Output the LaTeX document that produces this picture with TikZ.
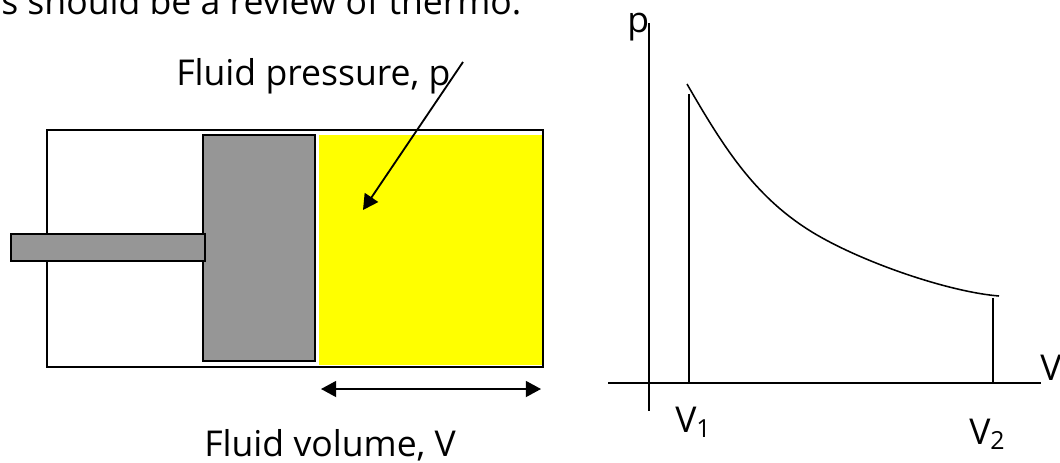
\documentclass[tikz,border=0pt]{standalone}
\usepackage{fontspec}
\setmainfont{Open Sans}
\usepackage{xcolor}
\usetikzlibrary{arrows.meta, positioning, calc}
\definecolor{pistongray}{RGB}{150, 150, 150}
\definecolor{fluidyellow}{RGB}{255, 255, 0}
\tikzstyle{part} = [rectangle, draw=black, anchor=north west, inner sep=0pt, outer sep=0pt, line width=1.4pt]
\tikzstyle{label} = [anchor=base west, inner sep=0pt, font=\fontsize{25.3}{30}\selectfont]
\tikzstyle{line} = [line width=1.3pt]
\tikzstyle{arrow} = [-{Triangle[length=3.8mm, width=4mm]}, line width=1.3pt]
\tikzstyle{bothways} = [{Triangle[length=3.8mm, width=4mm]}-{Triangle[length=3.8mm, width=4mm]}, line width=1.3pt]

\begin{document}
\begin{tikzpicture}[x=0.025cm, y=-0.025cm]
    \useasboundingbox (0, 0) rectangle (1060, 462);

    % Cylinder and fluid
    \node[part, minimum width=12.4cm, minimum height=5.925cm] (cylinder) at (47, 130) {};
    \node[anchor=north west, inner sep=0pt, outer sep=0pt, fill=fluidyellow, minimum width=5.6cm, minimum height=5.75cm] (fluid) at (319, 135) {};
    \draw[line width=1.4pt] (cylinder.north east) -- (cylinder.south east) -- (cylinder.south west);
    \node[part, fill=pistongray, minimum width=2.8cm, minimum height=5.65cm] (piston) at (203, 135) {};
    \node[part, fill=pistongray, minimum width=4.85cm, minimum height=0.675cm] (rod) at (11, 234) {};

    % Labels on the cylinder
    \node[label] (heading) at (1, 14) {s should be a review of thermo.};
    \node[label] (pressure) at (176, 85) {Fluid pressure, p};
    \node[label] (volume) at (204, 456) {Fluid volume, V};

    \coordinate (pstart) at (463, 62);
    \coordinate (pend) at (363, 210);
    \coordinate (vleft) at (321, 389);
    \coordinate (vright) at (541, 389);
    \draw[arrow] (pstart) -- (pend);
    \draw[bothways] (vleft) -- (vright);

    % p-V plot
    \coordinate (ptop) at (649, 23);
    \coordinate (pbottom) at (649, 411);
    \coordinate (vstart) at (608, 383);
    \coordinate (vstop) at (1041, 383);
    \coordinate (vone) at (689, 383);
    \coordinate (vtwo) at (993, 383);
    \coordinate (vonetop) at (689, 94);
    \coordinate (vtwotop) at (993, 298);
    \coordinate (curvestart) at (687, 84);
    \coordinate (curvemid) at (817, 235);
    \coordinate (curveend) at (999, 296);
    \draw[line] (ptop) -- (pbottom);
    \draw[line] (vstart) -- (vstop);
    \draw[line] (vone) -- (vonetop);
    \draw[line] (vtwo) -- (vtwotop);
    \draw[line width=1.1pt] (curvestart) .. controls (725, 150) and (757, 200) .. (curvemid) .. controls (867, 264) and (950, 292) .. (curveend);

    \node[label] (paxis) at (627, 32) {p};
    \node[label] (vaxis) at (1040, 380) {V};
    \node[label] (vonelabel) at (675, 432) {V\textsubscript{1}};
    \node[label] (vtwolabel) at (969, 444) {V\textsubscript{2}};
\end{tikzpicture}
\end{document}
